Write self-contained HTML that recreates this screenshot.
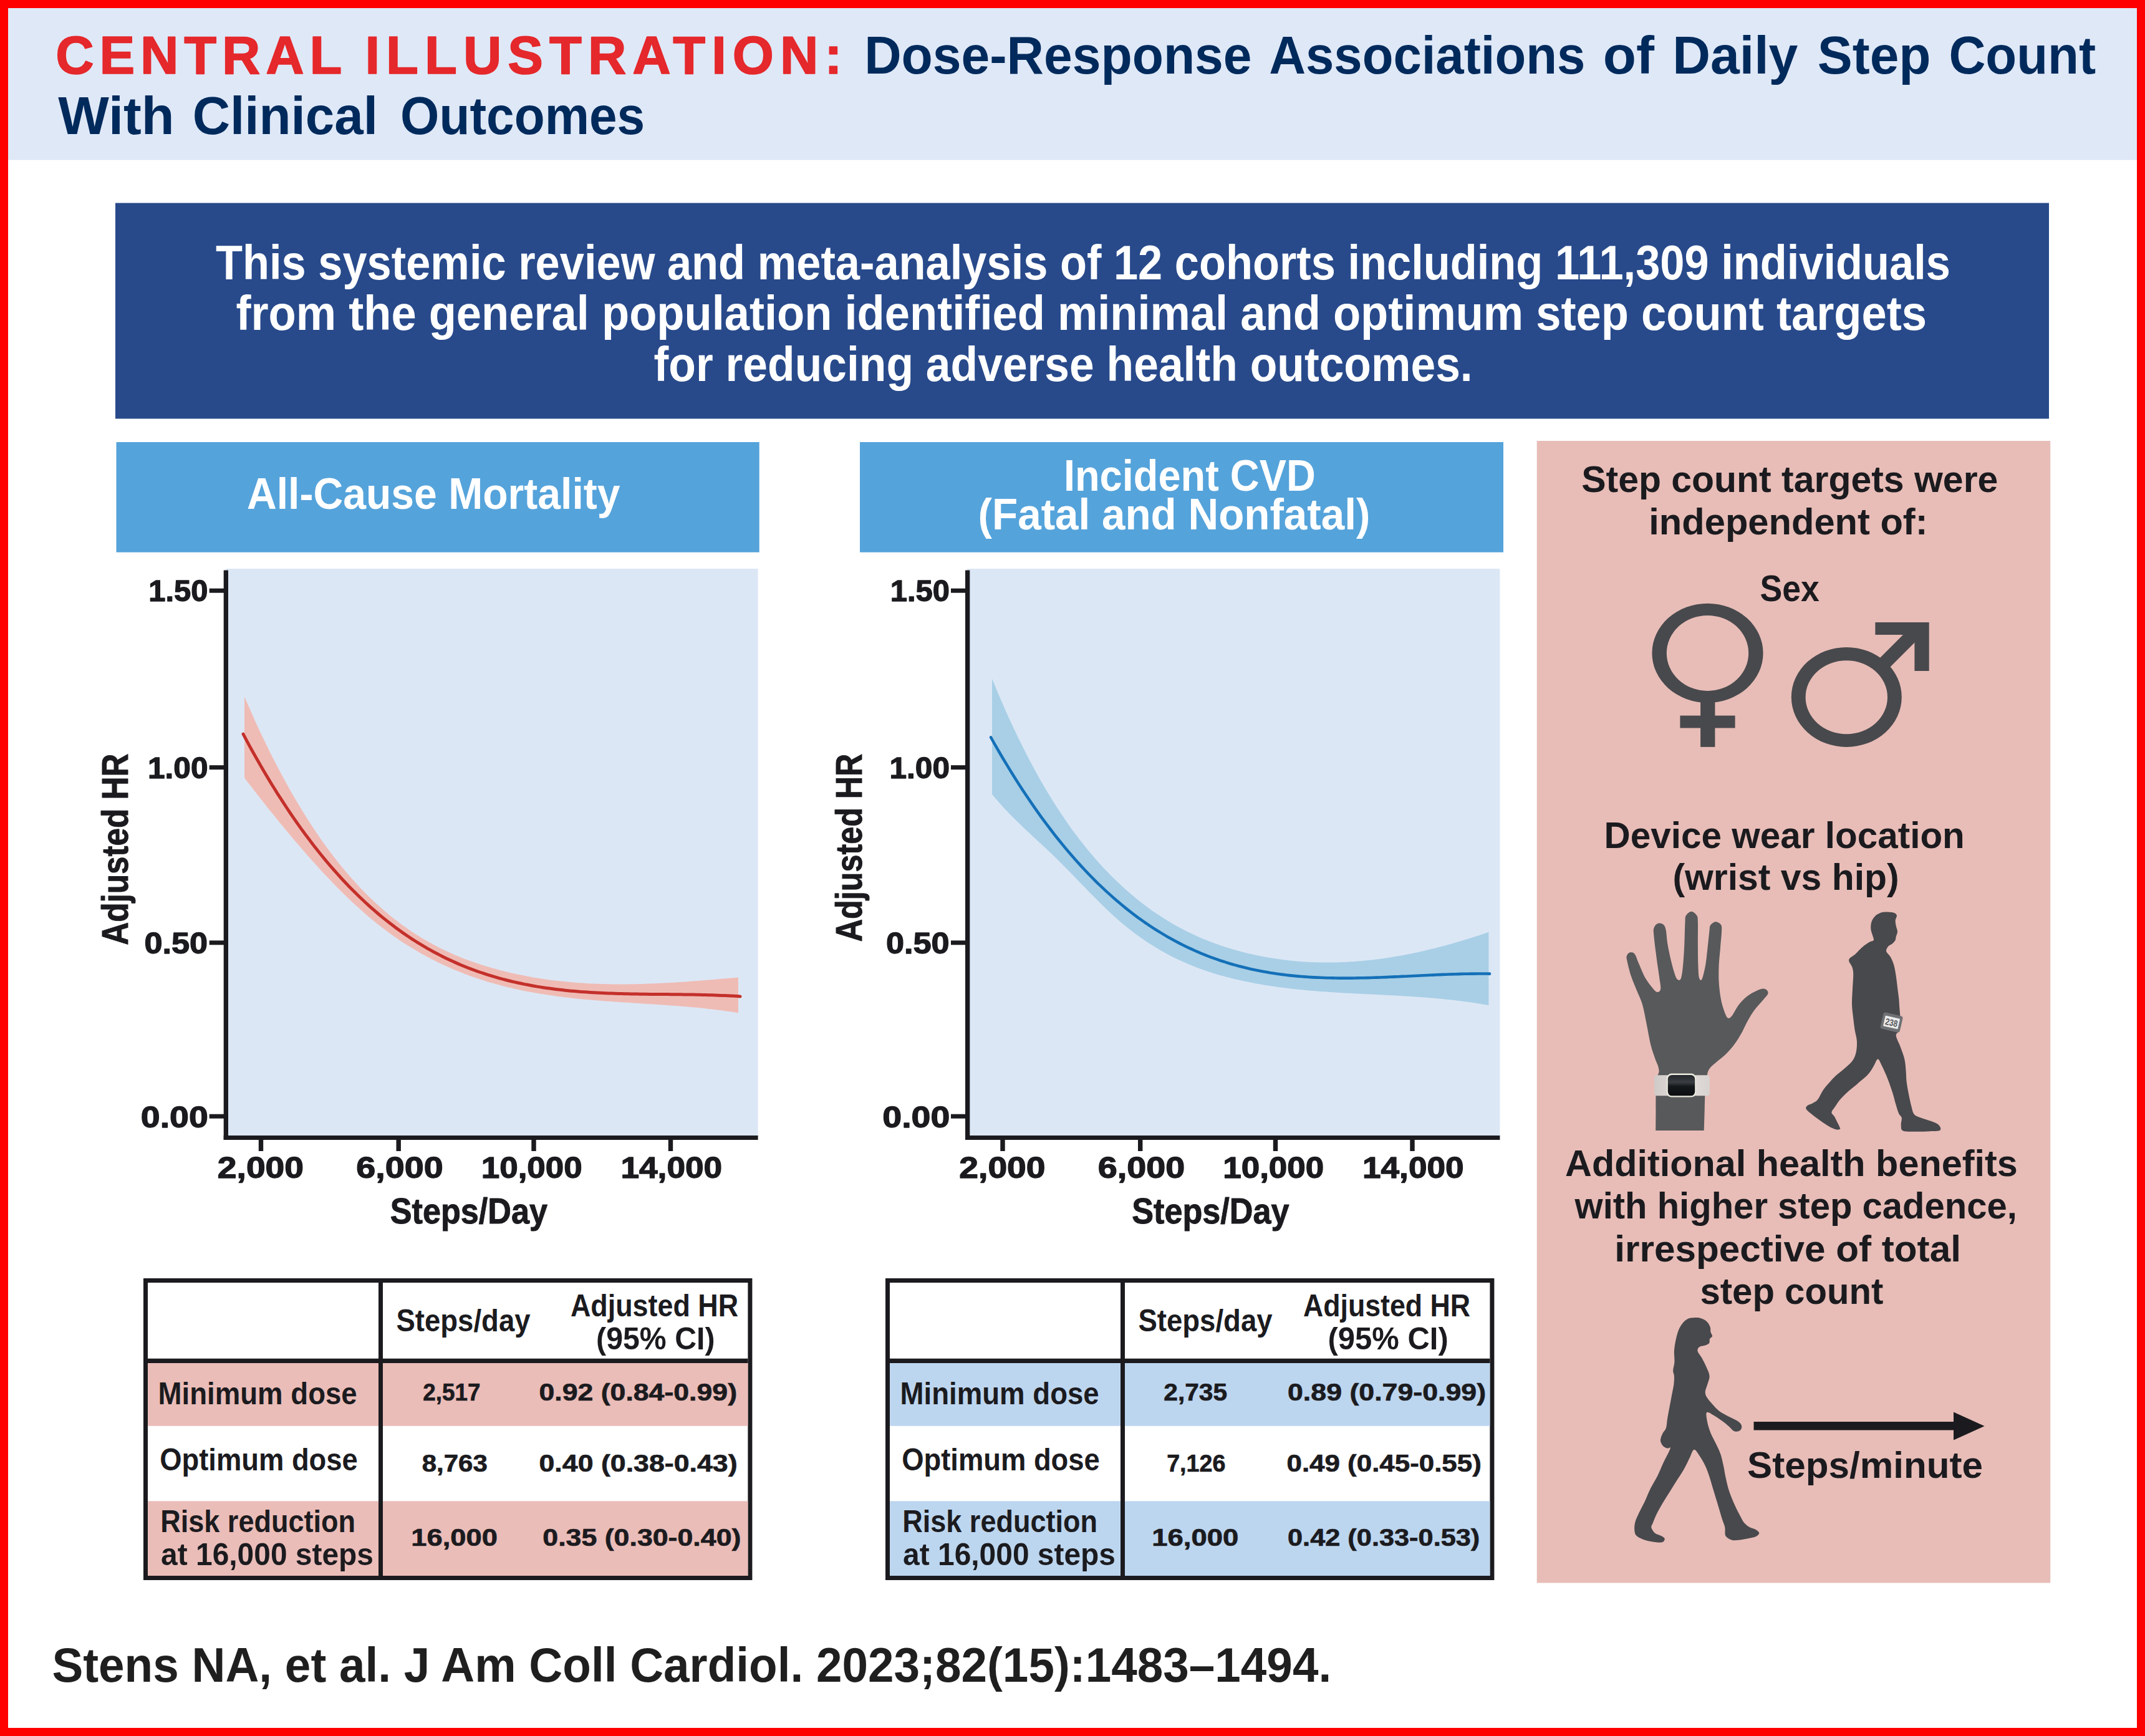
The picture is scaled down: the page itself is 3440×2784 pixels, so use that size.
<!DOCTYPE html>
<html lang="en"><head><meta charset="utf-8"><title>Central Illustration: Dose-Response Associations of Daily Step Count With Clinical Outcomes</title>
<style>
html,body{margin:0;padding:0;background:#fff;}
body{width:3440px;height:2784px;overflow:hidden;font-family:"Liberation Sans",sans-serif;}
svg{display:block;}
</style></head><body>
<svg width="3440" height="2784" viewBox="0 0 3440 2784">
<rect x="0.0" y="0.0" width="3440.0" height="2784.0" fill="#ff0000" />
<rect x="13.0" y="13.0" width="3414.0" height="2758.0" fill="#ffffff" />
<rect x="13.0" y="13.0" width="3414.0" height="243.5" fill="#dfe8f7" />
<rect x="185.0" y="325.5" width="3101.0" height="346.0" fill="#284a8b" />
<rect x="186.5" y="709.0" width="1031.2" height="176.7" fill="#55a3db" />
<rect x="1379.0" y="709.0" width="1032.0" height="176.7" fill="#55a3db" />
<rect x="361.7" y="912.0" width="853.9" height="912.0" fill="#dce7f5" />
<path d="M392.0,1117.2 L397.0,1128.7 L402.0,1140.1 L406.9,1151.2 L411.9,1162.2 L416.9,1172.9 L421.9,1183.4 L426.9,1193.8 L431.8,1203.9 L436.8,1213.9 L441.8,1223.6 L446.8,1233.2 L451.8,1242.6 L456.8,1251.8 L461.7,1260.8 L466.7,1269.6 L471.7,1278.3 L476.7,1286.8 L481.7,1295.1 L486.6,1303.2 L491.6,1311.1 L496.6,1318.9 L501.6,1326.6 L506.6,1334.0 L511.5,1341.3 L516.5,1348.4 L521.5,1355.4 L526.5,1362.2 L531.5,1368.9 L536.5,1375.4 L541.4,1381.7 L546.4,1387.9 L551.4,1394.0 L556.4,1399.9 L561.4,1405.7 L566.3,1411.3 L571.3,1416.8 L576.3,1422.2 L581.3,1427.4 L586.3,1432.5 L591.2,1437.5 L596.2,1442.3 L601.2,1447.0 L606.2,1451.6 L611.2,1456.1 L616.2,1460.4 L621.1,1464.6 L626.1,1468.7 L631.1,1472.7 L636.1,1476.6 L641.1,1480.4 L646.0,1484.0 L651.0,1487.6 L656.0,1491.1 L661.0,1494.4 L666.0,1497.7 L670.9,1500.8 L675.9,1503.9 L680.9,1506.8 L685.9,1509.7 L690.9,1512.5 L695.8,1515.2 L700.8,1517.8 L705.8,1520.4 L710.8,1522.8 L715.8,1525.2 L720.8,1527.5 L725.7,1529.7 L730.7,1531.9 L735.7,1533.9 L740.7,1535.9 L745.7,1537.9 L750.6,1539.8 L755.6,1541.6 L760.6,1543.3 L765.6,1545.0 L770.6,1546.7 L775.5,1548.3 L780.5,1549.8 L785.5,1551.3 L790.5,1552.7 L795.5,1554.1 L800.5,1555.4 L805.4,1556.7 L810.4,1558.0 L815.4,1559.2 L820.4,1560.4 L825.4,1561.5 L830.3,1562.6 L835.3,1563.6 L840.3,1564.6 L845.3,1565.6 L850.3,1566.5 L855.2,1567.4 L860.2,1568.2 L865.2,1569.0 L870.2,1569.8 L875.2,1570.5 L880.2,1571.2 L885.1,1571.9 L890.1,1572.5 L895.1,1573.1 L900.1,1573.6 L905.1,1574.1 L910.0,1574.6 L915.0,1575.1 L920.0,1575.5 L925.0,1575.9 L930.0,1576.3 L934.9,1576.6 L939.9,1576.9 L944.9,1577.2 L949.9,1577.4 L954.9,1577.6 L959.8,1577.8 L964.8,1578.0 L969.8,1578.1 L974.8,1578.2 L979.8,1578.3 L984.8,1578.4 L989.7,1578.4 L994.7,1578.4 L999.7,1578.4 L1004.7,1578.4 L1009.7,1578.3 L1014.6,1578.2 L1019.6,1578.2 L1024.6,1578.0 L1029.6,1577.9 L1034.6,1577.8 L1039.5,1577.6 L1044.5,1577.4 L1049.5,1577.2 L1054.5,1577.0 L1059.5,1576.7 L1064.5,1576.5 L1069.4,1576.2 L1074.4,1575.9 L1079.4,1575.7 L1084.4,1575.4 L1089.4,1575.0 L1094.3,1574.7 L1099.3,1574.4 L1104.3,1574.0 L1109.3,1573.6 L1114.3,1573.3 L1119.2,1572.9 L1124.2,1572.5 L1129.2,1572.1 L1134.2,1571.7 L1139.2,1571.3 L1144.2,1570.9 L1149.1,1570.5 L1154.1,1570.0 L1159.1,1569.6 L1164.1,1569.2 L1169.1,1568.7 L1174.0,1568.3 L1179.0,1567.9 L1184.0,1567.4 L1184.0,1624.4 L1179.0,1623.6 L1174.0,1622.8 L1169.1,1622.1 L1164.1,1621.4 L1159.1,1620.7 L1154.1,1620.0 L1149.1,1619.4 L1144.2,1618.8 L1139.2,1618.2 L1134.2,1617.7 L1129.2,1617.1 L1124.2,1616.6 L1119.2,1616.1 L1114.3,1615.6 L1109.3,1615.2 L1104.3,1614.7 L1099.3,1614.3 L1094.3,1613.9 L1089.4,1613.5 L1084.4,1613.1 L1079.4,1612.7 L1074.4,1612.4 L1069.4,1612.0 L1064.5,1611.7 L1059.5,1611.3 L1054.5,1611.0 L1049.5,1610.7 L1044.5,1610.3 L1039.5,1610.0 L1034.6,1609.7 L1029.6,1609.4 L1024.6,1609.1 L1019.6,1608.8 L1014.6,1608.4 L1009.7,1608.1 L1004.7,1607.8 L999.7,1607.5 L994.7,1607.2 L989.7,1606.8 L984.8,1606.5 L979.8,1606.1 L974.8,1605.8 L969.8,1605.4 L964.8,1605.0 L959.8,1604.6 L954.9,1604.2 L949.9,1603.8 L944.9,1603.3 L939.9,1602.9 L934.9,1602.4 L930.0,1601.9 L925.0,1601.4 L920.0,1600.9 L915.0,1600.3 L910.0,1599.8 L905.1,1599.2 L900.1,1598.6 L895.1,1597.9 L890.1,1597.2 L885.1,1596.6 L880.2,1595.8 L875.2,1595.1 L870.2,1594.3 L865.2,1593.5 L860.2,1592.6 L855.2,1591.7 L850.3,1590.8 L845.3,1589.9 L840.3,1588.9 L835.3,1587.9 L830.3,1586.8 L825.4,1585.7 L820.4,1584.6 L815.4,1583.4 L810.4,1582.2 L805.4,1580.9 L800.5,1579.6 L795.5,1578.2 L790.5,1576.8 L785.5,1575.4 L780.5,1573.9 L775.5,1572.3 L770.6,1570.8 L765.6,1569.1 L760.6,1567.4 L755.6,1565.7 L750.6,1563.8 L745.7,1562.0 L740.7,1560.1 L735.7,1558.1 L730.7,1556.0 L725.7,1553.9 L720.8,1551.8 L715.8,1549.6 L710.8,1547.3 L705.8,1544.9 L700.8,1542.5 L695.8,1540.0 L690.9,1537.4 L685.9,1534.8 L680.9,1532.1 L675.9,1529.4 L670.9,1526.5 L666.0,1523.6 L661.0,1520.6 L656.0,1517.5 L651.0,1514.4 L646.0,1511.2 L641.1,1507.9 L636.1,1504.5 L631.1,1501.0 L626.1,1497.5 L621.1,1493.8 L616.2,1490.1 L611.2,1486.3 L606.2,1482.4 L601.2,1478.4 L596.2,1474.3 L591.2,1470.2 L586.3,1465.9 L581.3,1461.6 L576.3,1457.1 L571.3,1452.6 L566.3,1448.0 L561.4,1443.3 L556.4,1438.5 L551.4,1433.7 L546.4,1428.7 L541.4,1423.7 L536.5,1418.7 L531.5,1413.5 L526.5,1408.3 L521.5,1403.0 L516.5,1397.7 L511.5,1392.3 L506.6,1386.8 L501.6,1381.2 L496.6,1375.7 L491.6,1370.0 L486.6,1364.3 L481.7,1358.6 L476.7,1352.8 L471.7,1346.9 L466.7,1341.0 L461.7,1335.1 L456.8,1329.1 L451.8,1323.0 L446.8,1316.9 L441.8,1310.8 L436.8,1304.6 L431.8,1298.4 L426.9,1292.2 L421.9,1285.9 L416.9,1279.5 L411.9,1273.2 L406.9,1266.8 L402.0,1260.3 L397.0,1253.9 L392.0,1247.4 Z" fill="#efbcb5"/>
<path d="M390.0,1177.2 L395.0,1186.6 L400.0,1195.9 L405.0,1205.0 L410.1,1214.0 L415.1,1222.8 L420.1,1231.5 L425.1,1240.0 L430.1,1248.4 L435.1,1256.7 L440.1,1264.8 L445.1,1272.8 L450.2,1280.7 L455.2,1288.4 L460.2,1296.0 L465.2,1303.5 L470.2,1310.8 L475.2,1318.0 L480.2,1325.1 L485.2,1332.1 L490.3,1338.9 L495.3,1345.6 L500.3,1352.2 L505.3,1358.7 L510.3,1365.0 L515.3,1371.3 L520.3,1377.4 L525.3,1383.4 L530.4,1389.3 L535.4,1395.0 L540.4,1400.7 L545.4,1406.2 L550.4,1411.7 L555.4,1417.0 L560.4,1422.2 L565.4,1427.3 L570.5,1432.3 L575.5,1437.2 L580.5,1442.0 L585.5,1446.7 L590.5,1451.3 L595.5,1455.8 L600.5,1460.2 L605.5,1464.5 L610.6,1468.8 L615.6,1472.9 L620.6,1476.9 L625.6,1480.8 L630.6,1484.6 L635.6,1488.4 L640.6,1492.0 L645.6,1495.6 L650.7,1499.1 L655.7,1502.5 L660.7,1505.8 L665.7,1509.0 L670.7,1512.2 L675.7,1515.2 L680.7,1518.2 L685.7,1521.1 L690.8,1523.9 L695.8,1526.7 L700.8,1529.3 L705.8,1531.9 L710.8,1534.5 L715.8,1536.9 L720.8,1539.3 L725.8,1541.6 L730.9,1543.9 L735.9,1546.1 L740.9,1548.2 L745.9,1550.2 L750.9,1552.2 L755.9,1554.1 L760.9,1556.0 L765.9,1557.8 L771.0,1559.5 L776.0,1561.2 L781.0,1562.8 L786.0,1564.4 L791.0,1565.9 L796.0,1567.4 L801.0,1568.8 L806.0,1570.2 L811.1,1571.5 L816.1,1572.7 L821.1,1574.0 L826.1,1575.1 L831.1,1576.2 L836.1,1577.3 L841.1,1578.4 L846.1,1579.3 L851.2,1580.3 L856.2,1581.2 L861.2,1582.1 L866.2,1582.9 L871.2,1583.7 L876.2,1584.4 L881.2,1585.1 L886.2,1585.8 L891.3,1586.4 L896.3,1587.0 L901.3,1587.6 L906.3,1588.2 L911.3,1588.7 L916.3,1589.2 L921.3,1589.6 L926.3,1590.0 L931.4,1590.4 L936.4,1590.8 L941.4,1591.1 L946.4,1591.5 L951.4,1591.8 L956.4,1592.1 L961.4,1592.3 L966.4,1592.5 L971.5,1592.8 L976.5,1593.0 L981.5,1593.1 L986.5,1593.3 L991.5,1593.5 L996.5,1593.6 L1001.5,1593.7 L1006.5,1593.8 L1011.6,1593.9 L1016.6,1594.0 L1021.6,1594.1 L1026.6,1594.2 L1031.6,1594.3 L1036.6,1594.3 L1041.6,1594.4 L1046.6,1594.4 L1051.7,1594.5 L1056.7,1594.5 L1061.7,1594.6 L1066.7,1594.6 L1071.7,1594.6 L1076.7,1594.7 L1081.7,1594.7 L1086.7,1594.8 L1091.8,1594.8 L1096.8,1594.9 L1101.8,1595.0 L1106.8,1595.0 L1111.8,1595.1 L1116.8,1595.2 L1121.8,1595.3 L1126.8,1595.4 L1131.9,1595.5 L1136.9,1595.7 L1141.9,1595.8 L1146.9,1596.0 L1151.9,1596.2 L1156.9,1596.4 L1161.9,1596.6 L1166.9,1596.8 L1172.0,1597.1 L1177.0,1597.3 L1182.0,1597.6 L1187.0,1598.0" fill="none" stroke="#c4302b" stroke-width="5.0" stroke-linecap="round" stroke-linejoin="round"/>
<rect x="358.7" y="914.5" width="7.3" height="913.5" fill="#1b1b1f" />
<rect x="358.7" y="1821.0" width="856.9" height="7.0" fill="#1b1b1f" />
<rect x="335.7" y="943.7" width="24.0" height="7.0" fill="#1b1b1f" />
<rect x="335.7" y="1227.2" width="24.0" height="7.0" fill="#1b1b1f" />
<rect x="335.7" y="1508.3" width="24.0" height="7.0" fill="#1b1b1f" />
<rect x="335.7" y="1786.7" width="24.0" height="7.0" fill="#1b1b1f" />
<rect x="414.8" y="1826.0" width="7.4" height="20.0" fill="#1b1b1f" />
<rect x="635.5" y="1826.0" width="7.4" height="20.0" fill="#1b1b1f" />
<rect x="852.3" y="1826.0" width="7.4" height="20.0" fill="#1b1b1f" />
<rect x="1071.8" y="1826.0" width="7.4" height="20.0" fill="#1b1b1f" />
<rect x="1551.0" y="912.0" width="854.4" height="912.0" fill="#dce7f5" />
<path d="M1591.0,1088.4 L1596.0,1100.6 L1601.0,1112.6 L1606.0,1124.3 L1611.0,1135.8 L1616.0,1147.0 L1621.1,1158.0 L1626.1,1168.7 L1631.1,1179.3 L1636.1,1189.5 L1641.1,1199.6 L1646.1,1209.5 L1651.1,1219.1 L1656.1,1228.5 L1661.1,1237.7 L1666.1,1246.7 L1671.1,1255.5 L1676.1,1264.1 L1681.2,1272.5 L1686.2,1280.7 L1691.2,1288.7 L1696.2,1296.5 L1701.2,1304.1 L1706.2,1311.6 L1711.2,1318.8 L1716.2,1325.9 L1721.2,1332.9 L1726.2,1339.6 L1731.2,1346.2 L1736.3,1352.6 L1741.3,1358.9 L1746.3,1365.0 L1751.3,1371.0 L1756.3,1376.8 L1761.3,1382.4 L1766.3,1388.0 L1771.3,1393.4 L1776.3,1398.6 L1781.3,1403.7 L1786.3,1408.7 L1791.4,1413.6 L1796.4,1418.3 L1801.4,1422.9 L1806.4,1427.4 L1811.4,1431.8 L1816.4,1436.1 L1821.4,1440.2 L1826.4,1444.3 L1831.4,1448.2 L1836.4,1452.0 L1841.4,1455.8 L1846.4,1459.4 L1851.5,1462.9 L1856.5,1466.3 L1861.5,1469.6 L1866.5,1472.8 L1871.5,1475.9 L1876.5,1479.0 L1881.5,1481.9 L1886.5,1484.7 L1891.5,1487.5 L1896.5,1490.1 L1901.5,1492.7 L1906.6,1495.2 L1911.6,1497.6 L1916.6,1499.9 L1921.6,1502.2 L1926.6,1504.4 L1931.6,1506.5 L1936.6,1508.5 L1941.6,1510.4 L1946.6,1512.3 L1951.6,1514.1 L1956.6,1515.9 L1961.7,1517.6 L1966.7,1519.2 L1971.7,1520.7 L1976.7,1522.2 L1981.7,1523.7 L1986.7,1525.0 L1991.7,1526.4 L1996.7,1527.7 L2001.7,1528.9 L2006.7,1530.1 L2011.7,1531.2 L2016.7,1532.2 L2021.8,1533.3 L2026.8,1534.2 L2031.8,1535.2 L2036.8,1536.0 L2041.8,1536.8 L2046.8,1537.6 L2051.8,1538.3 L2056.8,1539.0 L2061.8,1539.6 L2066.8,1540.2 L2071.8,1540.7 L2076.9,1541.2 L2081.9,1541.7 L2086.9,1542.1 L2091.9,1542.4 L2096.9,1542.7 L2101.9,1543.0 L2106.9,1543.2 L2111.9,1543.3 L2116.9,1543.5 L2121.9,1543.5 L2126.9,1543.6 L2132.0,1543.6 L2137.0,1543.5 L2142.0,1543.4 L2147.0,1543.3 L2152.0,1543.1 L2157.0,1542.9 L2162.0,1542.6 L2167.0,1542.3 L2172.0,1542.0 L2177.0,1541.6 L2182.0,1541.2 L2187.0,1540.8 L2192.1,1540.3 L2197.1,1539.7 L2202.1,1539.2 L2207.1,1538.5 L2212.1,1537.9 L2217.1,1537.2 L2222.1,1536.5 L2227.1,1535.8 L2232.1,1535.0 L2237.1,1534.1 L2242.1,1533.3 L2247.2,1532.4 L2252.2,1531.5 L2257.2,1530.5 L2262.2,1529.5 L2267.2,1528.5 L2272.2,1527.4 L2277.2,1526.3 L2282.2,1525.2 L2287.2,1524.0 L2292.2,1522.8 L2297.2,1521.6 L2302.3,1520.4 L2307.3,1519.1 L2312.3,1517.8 L2317.3,1516.4 L2322.3,1515.1 L2327.3,1513.7 L2332.3,1512.3 L2337.3,1510.8 L2342.3,1509.3 L2347.3,1507.8 L2352.3,1506.3 L2357.3,1504.7 L2362.4,1503.1 L2367.4,1501.5 L2372.4,1499.9 L2377.4,1498.2 L2382.4,1496.5 L2387.4,1494.8 L2387.4,1612.2 L2382.4,1611.3 L2377.4,1610.4 L2372.4,1609.6 L2367.4,1608.8 L2362.4,1608.0 L2357.3,1607.3 L2352.3,1606.6 L2347.3,1605.9 L2342.3,1605.3 L2337.3,1604.7 L2332.3,1604.1 L2327.3,1603.5 L2322.3,1603.0 L2317.3,1602.4 L2312.3,1601.9 L2307.3,1601.5 L2302.3,1601.0 L2297.2,1600.6 L2292.2,1600.2 L2287.2,1599.8 L2282.2,1599.4 L2277.2,1599.0 L2272.2,1598.7 L2267.2,1598.3 L2262.2,1598.0 L2257.2,1597.7 L2252.2,1597.4 L2247.2,1597.1 L2242.1,1596.8 L2237.1,1596.6 L2232.1,1596.3 L2227.1,1596.0 L2222.1,1595.8 L2217.1,1595.5 L2212.1,1595.3 L2207.1,1595.0 L2202.1,1594.8 L2197.1,1594.5 L2192.1,1594.3 L2187.0,1594.1 L2182.0,1593.8 L2177.0,1593.5 L2172.0,1593.3 L2167.0,1593.0 L2162.0,1592.8 L2157.0,1592.5 L2152.0,1592.2 L2147.0,1591.9 L2142.0,1591.6 L2137.0,1591.3 L2132.0,1591.0 L2126.9,1590.6 L2121.9,1590.3 L2116.9,1589.9 L2111.9,1589.5 L2106.9,1589.1 L2101.9,1588.7 L2096.9,1588.2 L2091.9,1587.8 L2086.9,1587.3 L2081.9,1586.8 L2076.9,1586.2 L2071.8,1585.7 L2066.8,1585.1 L2061.8,1584.5 L2056.8,1583.8 L2051.8,1583.2 L2046.8,1582.5 L2041.8,1581.8 L2036.8,1581.0 L2031.8,1580.2 L2026.8,1579.4 L2021.8,1578.6 L2016.7,1577.7 L2011.7,1576.8 L2006.7,1575.8 L2001.7,1574.8 L1996.7,1573.8 L1991.7,1572.7 L1986.7,1571.6 L1981.7,1570.4 L1976.7,1569.2 L1971.7,1568.0 L1966.7,1566.7 L1961.7,1565.3 L1956.6,1563.9 L1951.6,1562.4 L1946.6,1560.9 L1941.6,1559.3 L1936.6,1557.7 L1931.6,1556.0 L1926.6,1554.2 L1921.6,1552.4 L1916.6,1550.5 L1911.6,1548.5 L1906.6,1546.4 L1901.5,1544.3 L1896.5,1542.1 L1891.5,1539.8 L1886.5,1537.4 L1881.5,1534.9 L1876.5,1532.4 L1871.5,1529.7 L1866.5,1527.0 L1861.5,1524.2 L1856.5,1521.3 L1851.5,1518.2 L1846.4,1515.1 L1841.4,1511.9 L1836.4,1508.6 L1831.4,1505.1 L1826.4,1501.6 L1821.4,1497.9 L1816.4,1494.2 L1811.4,1490.3 L1806.4,1486.3 L1801.4,1482.2 L1796.4,1477.9 L1791.4,1473.6 L1786.3,1469.1 L1781.3,1464.5 L1776.3,1459.8 L1771.3,1455.0 L1766.3,1450.1 L1761.3,1445.1 L1756.3,1440.1 L1751.3,1435.0 L1746.3,1429.9 L1741.3,1424.8 L1736.3,1419.6 L1731.2,1414.4 L1726.2,1409.2 L1721.2,1404.1 L1716.2,1398.9 L1711.2,1393.8 L1706.2,1388.7 L1701.2,1383.7 L1696.2,1378.7 L1691.2,1373.8 L1686.2,1369.0 L1681.2,1364.2 L1676.1,1359.5 L1671.1,1354.9 L1666.1,1350.2 L1661.1,1345.6 L1656.1,1340.9 L1651.1,1336.3 L1646.1,1331.6 L1641.1,1326.9 L1636.1,1322.1 L1631.1,1317.2 L1626.1,1312.2 L1621.1,1307.2 L1616.0,1302.0 L1611.0,1296.7 L1606.0,1291.2 L1601.0,1285.6 L1596.0,1279.7 L1591.0,1273.7 Z" fill="#a8cfe6"/>
<path d="M1589.1,1182.5 L1594.1,1191.5 L1599.2,1200.3 L1604.2,1209.0 L1609.2,1217.5 L1614.3,1225.9 L1619.3,1234.1 L1624.3,1242.3 L1629.3,1250.3 L1634.4,1258.2 L1639.4,1265.9 L1644.4,1273.5 L1649.5,1281.0 L1654.5,1288.4 L1659.5,1295.6 L1664.6,1302.8 L1669.6,1309.8 L1674.6,1316.6 L1679.7,1323.4 L1684.7,1330.0 L1689.7,1336.6 L1694.7,1343.0 L1699.8,1349.3 L1704.8,1355.4 L1709.8,1361.5 L1714.9,1367.4 L1719.9,1373.3 L1724.9,1379.0 L1730.0,1384.6 L1735.0,1390.1 L1740.0,1395.5 L1745.1,1400.8 L1750.1,1406.0 L1755.1,1411.1 L1760.1,1416.1 L1765.2,1420.9 L1770.2,1425.7 L1775.2,1430.4 L1780.3,1434.9 L1785.3,1439.4 L1790.3,1443.8 L1795.4,1448.1 L1800.4,1452.3 L1805.4,1456.4 L1810.5,1460.3 L1815.5,1464.3 L1820.5,1468.1 L1825.5,1471.8 L1830.6,1475.4 L1835.6,1479.0 L1840.6,1482.4 L1845.7,1485.8 L1850.7,1489.1 L1855.7,1492.3 L1860.8,1495.4 L1865.8,1498.4 L1870.8,1501.4 L1875.9,1504.3 L1880.9,1507.1 L1885.9,1509.8 L1890.9,1512.4 L1896.0,1515.0 L1901.0,1517.5 L1906.0,1519.9 L1911.1,1522.2 L1916.1,1524.5 L1921.1,1526.7 L1926.2,1528.8 L1931.2,1530.9 L1936.2,1532.9 L1941.3,1534.8 L1946.3,1536.6 L1951.3,1538.4 L1956.3,1540.2 L1961.4,1541.8 L1966.4,1543.4 L1971.4,1545.0 L1976.5,1546.5 L1981.5,1547.9 L1986.5,1549.3 L1991.6,1550.6 L1996.6,1551.8 L2001.6,1553.0 L2006.7,1554.2 L2011.7,1555.3 L2016.7,1556.3 L2021.8,1557.3 L2026.8,1558.2 L2031.8,1559.1 L2036.8,1560.0 L2041.9,1560.8 L2046.9,1561.5 L2051.9,1562.2 L2057.0,1562.9 L2062.0,1563.5 L2067.0,1564.1 L2072.1,1564.6 L2077.1,1565.1 L2082.1,1565.6 L2087.2,1566.0 L2092.2,1566.4 L2097.2,1566.8 L2102.2,1567.1 L2107.3,1567.4 L2112.3,1567.6 L2117.3,1567.8 L2122.4,1568.0 L2127.4,1568.2 L2132.4,1568.3 L2137.5,1568.4 L2142.5,1568.5 L2147.5,1568.6 L2152.6,1568.6 L2157.6,1568.6 L2162.6,1568.6 L2167.6,1568.6 L2172.7,1568.5 L2177.7,1568.4 L2182.7,1568.3 L2187.8,1568.2 L2192.8,1568.1 L2197.8,1568.0 L2202.9,1567.8 L2207.9,1567.6 L2212.9,1567.5 L2218.0,1567.3 L2223.0,1567.1 L2228.0,1566.8 L2233.0,1566.6 L2238.1,1566.4 L2243.1,1566.2 L2248.1,1565.9 L2253.2,1565.7 L2258.2,1565.5 L2263.2,1565.2 L2268.3,1565.0 L2273.3,1564.7 L2278.3,1564.5 L2283.4,1564.2 L2288.4,1564.0 L2293.4,1563.8 L2298.4,1563.6 L2303.5,1563.3 L2308.5,1563.1 L2313.5,1562.9 L2318.6,1562.7 L2323.6,1562.5 L2328.6,1562.4 L2333.7,1562.2 L2338.7,1562.1 L2343.7,1561.9 L2348.8,1561.8 L2353.8,1561.7 L2358.8,1561.6 L2363.8,1561.6 L2368.9,1561.5 L2373.9,1561.5 L2378.9,1561.5 L2384.0,1561.5 L2389.0,1561.6" fill="none" stroke="#1470b8" stroke-width="4.6" stroke-linecap="round" stroke-linejoin="round"/>
<rect x="1548.0" y="914.5" width="7.3" height="913.5" fill="#1b1b1f" />
<rect x="1548.0" y="1821.0" width="857.4" height="7.0" fill="#1b1b1f" />
<rect x="1525.0" y="943.7" width="24.0" height="7.0" fill="#1b1b1f" />
<rect x="1525.0" y="1227.2" width="24.0" height="7.0" fill="#1b1b1f" />
<rect x="1525.0" y="1508.3" width="24.0" height="7.0" fill="#1b1b1f" />
<rect x="1525.0" y="1786.7" width="24.0" height="7.0" fill="#1b1b1f" />
<rect x="1604.3" y="1826.0" width="7.4" height="20.0" fill="#1b1b1f" />
<rect x="1825.0" y="1826.0" width="7.4" height="20.0" fill="#1b1b1f" />
<rect x="2041.8" y="1826.0" width="7.4" height="20.0" fill="#1b1b1f" />
<rect x="2261.3" y="1826.0" width="7.4" height="20.0" fill="#1b1b1f" />
<rect x="230.0" y="2050.0" width="976.4" height="484.0" fill="#1b1b1f" />
<rect x="237.0" y="2057.0" width="962.4" height="470.0" fill="#ffffff" />
<rect x="237.0" y="2186.0" width="962.4" height="100.8" fill="#ebbdb8" />
<rect x="237.0" y="2407.3" width="962.4" height="119.7" fill="#ebbdb8" />
<rect x="237.0" y="2178.7" width="962.4" height="7.3" fill="#1b1b1f" />
<rect x="607.0" y="2057.0" width="7.0" height="470.0" fill="#1b1b1f" />
<rect x="1420.0" y="2050.0" width="976.4" height="484.0" fill="#1b1b1f" />
<rect x="1427.0" y="2057.0" width="962.4" height="470.0" fill="#ffffff" />
<rect x="1427.0" y="2186.0" width="962.4" height="100.8" fill="#bdd6ef" />
<rect x="1427.0" y="2407.3" width="962.4" height="119.7" fill="#bdd6ef" />
<rect x="1427.0" y="2178.7" width="962.4" height="7.3" fill="#1b1b1f" />
<rect x="1797.0" y="2057.0" width="7.0" height="470.0" fill="#1b1b1f" />
<rect x="2464.7" y="707.0" width="823.5" height="1831.5" fill="#e8bdb7" />
<path fill-rule="evenodd" fill="#48494d" d="M2649.4,1047.4 a89.1,79.6 0 1,0 178.2,0 a89.1,79.6 0 1,0 -178.2,0 Z M2672.8,1047.4 a65.7,60.5 0 1,0 131.4,0 a65.7,60.5 0 1,0 -131.4,0 Z"/>
<rect x="2727.1" y="1120.0" width="23.3" height="77.9" fill="#48494d" />
<rect x="2694.4" y="1147.6" width="88.2" height="19.9" fill="#48494d" />
<path fill-rule="evenodd" fill="#48494d" d="M2872.8,1117.9 a88.5,80.0 0 1,0 177.0,0 a88.5,80.0 0 1,0 -177.0,0 Z M2895.6,1118.2 a65.7,59.0 0 1,0 131.4,0 a65.7,59.0 0 1,0 -131.4,0 Z"/>
<line x1="3022" y1="1063.5" x2="3078" y2="1007.5" stroke="#48494d" stroke-width="22"/>
<path d="M3007.4,998 H3093.7 V1076.1 H3070.4 V1018.1 H3007.4 Z" fill="#48494d"/>
<path d="M2655.3,1813.0 C2655.3,1813.0 2655.7,1728.8 2655.7,1728.8 C2655.7,1728.8 2659.9,1723.0 2660.4,1719.8 C2661.0,1716.6 2660.1,1713.2 2659.1,1709.7 C2658.1,1706.1 2656.6,1704.0 2654.6,1698.4 C2652.7,1692.8 2649.7,1685.3 2647.4,1676.0 C2645.1,1666.6 2642.9,1653.1 2640.7,1642.2 C2638.4,1631.4 2636.6,1619.8 2633.9,1610.8 C2631.3,1601.8 2627.9,1595.8 2624.9,1588.3 C2621.9,1580.8 2618.5,1573.5 2616.0,1565.8 C2613.4,1558.2 2610.9,1547.7 2609.7,1542.2 C2608.5,1536.8 2608.1,1535.7 2608.8,1533.3 C2609.4,1530.8 2611.6,1528.2 2613.7,1527.6 C2615.8,1527.1 2619.1,1526.9 2621.6,1529.9 C2624.0,1532.9 2625.5,1539.3 2628.3,1545.6 C2631.1,1552.0 2634.9,1561.7 2638.4,1568.1 C2642.0,1574.5 2646.5,1580.0 2649.7,1583.8 C2652.8,1587.6 2655.3,1590.6 2657.5,1591.0 C2659.8,1591.4 2662.6,1590.3 2663.1,1586.1 C2663.7,1581.9 2662.0,1574.5 2660.9,1565.8 C2659.8,1557.2 2657.8,1545.2 2656.4,1534.4 C2655.0,1523.5 2653.0,1508.4 2652.4,1500.7 C2651.7,1493.0 2651.3,1491.6 2652.4,1488.3 C2653.4,1485.0 2656.1,1481.8 2658.7,1480.9 C2661.2,1480.0 2665.5,1480.9 2667.6,1482.7 C2669.8,1484.5 2670.6,1486.4 2671.7,1491.7 C2672.8,1496.9 2673.0,1505.9 2674.4,1514.2 C2675.8,1522.4 2678.1,1533.3 2680.0,1541.1 C2681.9,1549.0 2683.9,1556.4 2685.6,1561.3 C2687.3,1566.3 2688.4,1569.5 2690.1,1570.8 C2691.8,1572.1 2694.2,1573.0 2695.7,1569.2 C2697.2,1565.4 2698.2,1557.0 2699.1,1547.9 C2700.0,1538.7 2700.8,1525.8 2701.3,1514.2 C2701.9,1502.5 2702.0,1485.9 2702.5,1478.2 C2702.9,1470.5 2702.4,1470.8 2704.0,1468.1 C2705.7,1465.4 2709.7,1461.8 2712.6,1461.8 C2715.4,1461.8 2719.4,1465.4 2721.1,1468.1 C2722.8,1470.8 2722.6,1470.5 2722.9,1478.2 C2723.2,1485.9 2722.8,1502.5 2722.9,1514.2 C2723.0,1525.8 2723.0,1538.9 2723.4,1547.9 C2723.7,1556.9 2723.9,1564.3 2724.9,1568.1 C2726.0,1571.8 2727.8,1573.7 2729.4,1570.3 C2731.1,1567.0 2733.6,1556.1 2735.1,1547.9 C2736.6,1539.6 2737.4,1529.9 2738.4,1520.9 C2739.5,1511.9 2740.6,1500.1 2741.3,1493.9 C2742.1,1487.8 2741.5,1486.4 2743.1,1483.8 C2744.8,1481.2 2748.5,1478.4 2751.2,1478.2 C2754.0,1478.0 2758.1,1480.3 2759.8,1482.7 C2761.4,1485.1 2761.3,1486.4 2761.1,1492.8 C2761.0,1499.2 2759.6,1511.7 2758.9,1520.9 C2758.1,1530.1 2757.0,1538.9 2756.6,1547.9 C2756.3,1556.9 2756.1,1565.8 2756.6,1574.8 C2757.2,1583.8 2758.3,1593.9 2759.8,1601.8 C2761.2,1609.7 2763.5,1616.9 2765.4,1622.0 C2767.3,1627.2 2769.0,1631.5 2771.0,1632.6 C2773.1,1633.7 2774.8,1632.4 2777.8,1628.8 C2780.7,1625.1 2784.9,1616.0 2789.0,1610.8 C2793.1,1605.5 2798.0,1600.9 2802.5,1597.3 C2807.0,1593.7 2811.8,1591.4 2816.0,1589.4 C2820.1,1587.5 2824.2,1585.8 2827.2,1585.6 C2830.2,1585.4 2832.6,1586.9 2833.9,1588.3 C2835.2,1589.7 2836.2,1591.5 2835.1,1594.2 C2833.9,1596.8 2830.7,1599.8 2827.2,1604.0 C2823.6,1608.3 2817.8,1614.2 2813.7,1619.8 C2809.6,1625.4 2805.8,1631.8 2802.5,1637.8 C2799.1,1643.7 2796.9,1649.7 2793.5,1655.7 C2790.1,1661.7 2786.4,1668.1 2782.2,1673.7 C2778.1,1679.3 2773.6,1684.6 2768.8,1689.4 C2763.9,1694.3 2757.2,1699.3 2753.0,1702.9 C2748.8,1706.6 2745.9,1708.7 2743.6,1711.2 C2741.3,1713.8 2740.1,1716.2 2739.1,1718.4 C2738.1,1720.6 2738.4,1722.4 2737.8,1724.5 C2737.1,1726.6 2735.1,1731.0 2735.1,1731.0 C2735.1,1731.0 2732.8,1813.0 2732.8,1813.0 C2732.8,1813.0 2655.3,1813.0 2655.3,1813.0Z" fill="#58595b"/>
<defs><linearGradient id="bandg" x1="0" y1="0" x2="1" y2="0"><stop offset="0" stop-color="#cfcac8"/><stop offset="0.5" stop-color="#e4e0dd"/><stop offset="1" stop-color="#d8d3d1"/></linearGradient><linearGradient id="scrg" x1="0" y1="0" x2="0" y2="1"><stop offset="0" stop-color="#23262a"/><stop offset="0.35" stop-color="#3a3e42"/><stop offset="0.55" stop-color="#15181b"/><stop offset="1" stop-color="#0c0e11"/></linearGradient></defs>
<rect x="2653.0" y="1724.3" width="88.8" height="33.0" rx="4" fill="url(#bandg)"/>
<rect x="2672.8" y="1721.6" width="47.4" height="38.0" rx="8" fill="#ecebe0"/>
<rect x="2674.8" y="1723.9" width="43.4" height="33.4" rx="6.5" fill="url(#scrg)"/>
<path d="M3022.8,1462.5 C3026.4,1462.4 3033.1,1462.7 3036.3,1463.6 C3039.5,1464.5 3041.3,1466.0 3041.9,1468.1 C3042.5,1470.1 3039.9,1473.1 3039.7,1476.0 C3039.5,1478.8 3040.2,1481.9 3040.8,1484.9 C3041.3,1487.9 3043.0,1491.1 3043.0,1493.9 C3043.0,1496.7 3041.3,1499.6 3040.8,1501.8 C3040.2,1504.0 3040.6,1505.5 3039.7,1507.4 C3038.7,1509.3 3037.0,1511.3 3035.2,1513.0 C3033.3,1514.7 3030.1,1515.5 3028.4,1517.5 C3026.7,1519.6 3024.5,1522.6 3025.1,1525.4 C3025.6,1528.2 3029.7,1530.6 3031.8,1534.4 C3033.9,1538.1 3035.9,1542.6 3037.4,1547.9 C3038.9,1553.1 3039.9,1559.9 3040.8,1565.8 C3041.7,1571.8 3042.3,1577.8 3043.0,1583.8 C3043.8,1589.8 3044.7,1596.2 3045.3,1601.8 C3045.8,1607.4 3046.0,1612.7 3046.4,1617.5 C3046.8,1622.4 3047.2,1626.9 3047.5,1631.0 C3047.9,1635.1 3049.2,1638.3 3048.7,1642.2 C3048.1,1646.2 3045.5,1651.4 3044.2,1654.6 C3042.8,1657.8 3040.2,1657.4 3040.8,1661.3 C3041.3,1665.3 3045.3,1672.0 3047.5,1678.2 C3049.8,1684.4 3052.8,1692.1 3054.3,1698.4 C3055.8,1704.8 3056.0,1710.4 3056.5,1716.4 C3057.1,1722.4 3056.9,1728.0 3057.6,1734.4 C3058.4,1740.7 3059.7,1747.9 3061.0,1754.6 C3062.3,1761.3 3064.0,1769.4 3065.5,1774.8 C3067.0,1780.3 3067.4,1784.2 3070.0,1787.2 C3072.6,1790.2 3077.1,1791.1 3081.2,1792.8 C3085.4,1794.5 3090.6,1795.8 3094.7,1797.3 C3098.8,1798.8 3103.1,1800.1 3106.0,1801.8 C3108.8,1803.5 3110.8,1805.5 3111.6,1807.4 C3112.3,1809.3 3113.3,1811.9 3110.4,1813.0 C3107.6,1814.2 3101.1,1813.9 3094.7,1814.2 C3088.4,1814.5 3079.4,1814.9 3072.2,1814.8 C3065.1,1814.7 3056.0,1815.3 3052.0,1813.5 C3048.1,1811.7 3049.0,1807.5 3048.7,1804.0 C3048.3,1800.6 3050.3,1795.8 3049.8,1792.8 C3049.2,1789.8 3046.8,1789.4 3045.3,1786.1 C3043.8,1782.7 3042.5,1778.2 3040.8,1772.6 C3039.1,1767.0 3037.4,1759.5 3035.2,1752.4 C3032.9,1745.2 3030.1,1737.0 3027.3,1729.9 C3024.5,1722.8 3020.9,1714.9 3018.3,1709.7 C3015.7,1704.4 3013.8,1698.4 3011.6,1698.4 C3009.3,1698.4 3007.5,1705.5 3004.8,1709.7 C3002.2,1713.8 3000.3,1718.3 2995.8,1723.1 C2991.3,1728.0 2983.1,1734.4 2977.9,1738.9 C2972.6,1743.4 2968.9,1746.0 2964.4,1750.1 C2959.9,1754.2 2954.5,1759.5 2950.9,1763.6 C2947.3,1767.7 2945.3,1771.5 2943.0,1774.8 C2940.8,1778.2 2937.6,1781.2 2937.4,1783.8 C2937.2,1786.4 2940.4,1787.9 2941.9,1790.6 C2943.4,1793.2 2945.1,1796.9 2946.4,1799.6 C2947.7,1802.2 2949.0,1804.4 2949.8,1806.3 C2950.5,1808.2 2951.8,1810.0 2950.9,1810.8 C2950.0,1811.6 2947.2,1812.0 2944.2,1811.2 C2941.2,1810.5 2937.0,1808.6 2932.9,1806.3 C2928.8,1804.0 2923.9,1800.5 2919.4,1797.3 C2914.9,1794.1 2909.8,1790.4 2906.0,1787.2 C2902.1,1784.0 2897.6,1780.6 2896.5,1778.2 C2895.4,1775.8 2897.5,1774.1 2899.2,1772.6 C2901.0,1771.1 2904.5,1770.7 2907.1,1769.2 C2909.7,1767.7 2912.1,1767.2 2914.9,1763.6 C2917.8,1760.0 2920.6,1752.7 2923.9,1747.9 C2927.3,1743.0 2931.4,1738.5 2935.2,1734.4 C2938.9,1730.3 2942.3,1726.9 2946.4,1723.1 C2950.5,1719.4 2955.8,1715.7 2959.9,1711.9 C2964.0,1708.2 2968.3,1704.8 2971.1,1700.7 C2973.9,1696.6 2975.6,1692.4 2976.7,1687.2 C2977.9,1681.9 2978.2,1675.2 2977.9,1669.2 C2977.5,1663.2 2975.4,1657.2 2974.5,1651.2 C2973.6,1645.2 2973.0,1640.0 2972.2,1633.3 C2971.5,1626.5 2970.2,1619.0 2970.0,1610.8 C2969.8,1602.5 2970.7,1592.1 2971.1,1583.8 C2971.5,1575.6 2972.4,1567.0 2972.2,1561.3 C2972.1,1555.7 2971.1,1553.3 2970.0,1550.1 C2968.9,1546.9 2966.1,1544.5 2965.5,1542.2 C2964.9,1540.0 2964.9,1538.7 2966.6,1536.6 C2968.3,1534.6 2972.2,1532.9 2975.6,1529.9 C2979.0,1526.9 2983.1,1521.8 2986.9,1518.7 C2990.6,1515.5 2995.1,1512.7 2998.1,1510.8 C3001.1,1508.9 3004.1,1509.5 3004.8,1507.4 C3005.6,1505.4 3003.3,1501.4 3002.6,1498.4 C3001.8,1495.4 3000.5,1492.8 3000.3,1489.4 C3000.1,1486.1 3000.3,1481.6 3001.5,1478.2 C3002.6,1474.8 3004.8,1471.5 3007.1,1469.2 C3009.3,1466.9 3012.3,1465.4 3014.9,1464.3 C3017.6,1463.1 3019.3,1462.6 3022.8,1462.5Z" fill="#48494d"/>
<g transform="translate(3033.6,1639.6) rotate(13)"><rect x="-16" y="-13.5" width="32" height="27" rx="4" fill="#6f7073"/><rect x="-12" y="-8.5" width="24" height="17" rx="1" fill="#ececec"/><text x="0" y="5.5" font-size="15" text-anchor="middle" fill="#5a5b5e" font-family="'Liberation Sans',sans-serif" font-weight="bold" textLength="20" lengthAdjust="spacingAndGlyphs">238</text></g>
<path d="M2712.4,2113.6 C2715.7,2113.2 2721.7,2112.7 2725.8,2113.6 C2730.0,2114.5 2734.3,2116.8 2737.1,2119.2 C2739.9,2121.6 2741.6,2125.4 2742.7,2128.2 C2743.7,2131.0 2742.8,2133.6 2743.4,2136.1 C2743.9,2138.5 2746.3,2140.9 2746.1,2142.8 C2745.8,2144.7 2742.8,2145.4 2742.0,2147.3 C2741.2,2149.2 2742.3,2152.4 2741.1,2154.0 C2739.9,2155.7 2737.4,2156.5 2734.8,2157.4 C2732.3,2158.4 2727.9,2158.2 2725.8,2159.7 C2723.8,2161.2 2721.9,2163.4 2722.5,2166.4 C2723.0,2169.4 2726.8,2173.1 2729.2,2177.6 C2731.6,2182.1 2735.0,2188.5 2737.1,2193.4 C2739.1,2198.2 2741.4,2202.4 2741.6,2206.9 C2741.8,2211.3 2739.3,2216.2 2738.2,2220.3 C2737.1,2224.5 2735.0,2228.2 2734.8,2231.6 C2734.6,2234.9 2735.2,2237.2 2737.1,2240.6 C2739.0,2243.9 2742.7,2248.1 2746.1,2251.8 C2749.4,2255.5 2752.8,2259.7 2757.3,2263.0 C2761.8,2266.4 2768.2,2269.4 2773.0,2272.0 C2777.9,2274.6 2783.2,2276.5 2786.5,2278.8 C2789.8,2281.0 2791.9,2283.3 2792.8,2285.5 C2793.7,2287.8 2793.2,2290.6 2792.1,2292.2 C2791.1,2293.9 2788.6,2295.2 2786.5,2295.6 C2784.5,2296.0 2782.0,2295.8 2779.8,2294.5 C2777.5,2293.2 2776.0,2290.4 2773.0,2287.8 C2770.0,2285.1 2765.9,2281.8 2761.8,2278.8 C2757.7,2275.8 2752.4,2272.0 2748.3,2269.8 C2744.2,2267.5 2738.8,2263.4 2737.1,2265.3 C2735.4,2267.2 2737.1,2275.4 2738.2,2281.0 C2739.3,2286.6 2741.4,2293.0 2743.8,2299.0 C2746.3,2305.0 2750.2,2311.3 2752.8,2317.0 C2755.4,2322.6 2757.7,2327.1 2759.6,2332.7 C2761.4,2338.3 2762.7,2344.7 2764.0,2350.7 C2765.4,2356.7 2765.9,2361.9 2767.4,2368.7 C2768.9,2375.4 2770.6,2383.6 2773.0,2391.1 C2775.5,2398.6 2779.0,2406.9 2782.0,2413.6 C2785.0,2420.3 2788.4,2426.7 2791.0,2431.6 C2793.6,2436.4 2795.1,2439.8 2797.8,2442.8 C2800.4,2445.8 2803.7,2447.9 2806.7,2449.6 C2809.7,2451.2 2813.3,2451.4 2815.7,2452.9 C2818.2,2454.4 2821.3,2456.7 2821.3,2458.5 C2821.3,2460.4 2818.9,2462.7 2815.7,2464.2 C2812.5,2465.7 2806.7,2466.6 2802.2,2467.5 C2797.8,2468.5 2792.9,2469.4 2788.8,2469.8 C2784.6,2470.1 2781.1,2470.9 2777.5,2469.8 C2774.0,2468.7 2769.3,2466.4 2767.4,2463.0 C2765.5,2459.7 2767.2,2454.0 2766.3,2449.6 C2765.4,2445.1 2763.7,2442.1 2761.8,2436.1 C2759.9,2430.1 2757.3,2421.1 2755.1,2413.6 C2752.8,2406.1 2750.6,2398.6 2748.3,2391.1 C2746.1,2383.6 2743.8,2375.4 2741.6,2368.7 C2739.3,2361.9 2737.5,2356.3 2734.8,2350.7 C2732.2,2345.1 2728.8,2339.3 2725.8,2334.9 C2722.8,2330.6 2719.5,2324.5 2716.9,2324.8 C2714.2,2325.2 2712.7,2332.1 2710.1,2337.2 C2707.5,2342.2 2704.5,2349.2 2701.1,2355.2 C2697.8,2361.2 2693.6,2367.2 2689.9,2373.1 C2686.1,2379.1 2682.4,2385.1 2678.7,2391.1 C2674.9,2397.1 2671.0,2403.1 2667.4,2409.1 C2663.9,2415.1 2660.1,2421.5 2657.3,2427.1 C2654.5,2432.7 2652.1,2439.1 2650.6,2442.8 C2649.1,2446.6 2647.8,2446.9 2648.3,2449.6 C2648.9,2452.2 2651.3,2456.3 2653.9,2458.5 C2656.6,2460.8 2661.4,2461.5 2664.0,2463.0 C2666.7,2464.5 2669.3,2465.8 2669.7,2467.5 C2670.0,2469.2 2668.9,2472.2 2666.3,2473.1 C2663.7,2474.1 2658.6,2473.7 2653.9,2473.1 C2649.3,2472.6 2643.1,2471.5 2638.2,2469.8 C2633.3,2468.1 2627.5,2465.7 2624.7,2463.0 C2621.9,2460.4 2621.7,2457.8 2621.3,2454.0 C2621.0,2450.3 2621.2,2445.4 2622.5,2440.6 C2623.8,2435.7 2626.6,2430.4 2629.2,2424.8 C2631.8,2419.2 2635.2,2413.2 2638.2,2406.9 C2641.2,2400.5 2643.8,2393.4 2647.2,2386.6 C2650.6,2379.9 2655.1,2373.1 2658.4,2366.4 C2661.8,2359.7 2664.4,2352.5 2667.4,2346.2 C2670.4,2339.8 2674.5,2332.3 2676.4,2328.2 C2678.3,2324.1 2679.0,2322.4 2678.7,2321.5 C2678.3,2320.5 2676.0,2323.0 2674.2,2322.6 C2672.3,2322.2 2669.3,2321.3 2667.4,2319.2 C2665.5,2317.2 2663.1,2313.6 2662.9,2310.2 C2662.7,2306.9 2664.8,2302.4 2666.3,2299.0 C2667.8,2295.6 2670.6,2294.1 2671.9,2290.0 C2673.2,2285.9 2673.2,2279.9 2674.2,2274.3 C2675.1,2268.7 2676.4,2262.3 2677.5,2256.3 C2678.7,2250.3 2679.8,2244.3 2680.9,2238.3 C2682.0,2232.3 2683.6,2225.6 2684.3,2220.3 C2684.9,2215.1 2685.1,2210.6 2684.9,2206.9 C2684.8,2203.1 2683.1,2201.6 2683.1,2197.9 C2683.2,2194.1 2685.1,2189.6 2685.4,2184.4 C2685.7,2179.1 2684.6,2172.4 2684.9,2166.4 C2685.3,2160.4 2686.4,2154.0 2687.6,2148.4 C2688.8,2142.8 2690.3,2137.2 2692.1,2132.7 C2694.0,2128.2 2696.6,2124.3 2698.9,2121.5 C2701.1,2118.7 2703.4,2117.2 2705.6,2115.8 C2707.9,2114.5 2709.0,2114.0 2712.4,2113.6Z" fill="#48494d"/>
<rect x="2812.5" y="2280.0" width="323.5" height="13.5" fill="#1b1b1f" />
<path d="M3133,2264.4 L3182.6,2287 L3133,2309.5 Z" fill="#1b1b1f"/>
<g font-family="'Liberation Sans', sans-serif" font-weight="bold">
<text x="89.3" y="118.3" font-size="85" fill="#e5282b" letter-spacing="8.84" stroke="#e5282b" stroke-width="1.6" stroke-linejoin="round">CENTRAL</text>
<text x="585.5" y="118.3" font-size="85" fill="#e5282b" letter-spacing="9.99" stroke="#e5282b" stroke-width="1.6" stroke-linejoin="round">ILLUSTRATION:</text>
<text x="1386.2" y="118.0" font-size="85.5" fill="#002a5c" textLength="621.4" lengthAdjust="spacingAndGlyphs">Dose-Response</text>
<text x="2035.2" y="118.0" font-size="85.5" fill="#002a5c" textLength="507.1" lengthAdjust="spacingAndGlyphs">Associations</text>
<text x="2570.8" y="118.0" font-size="85.5" fill="#002a5c" textLength="82.3" lengthAdjust="spacingAndGlyphs">of</text>
<text x="2682.2" y="118.0" font-size="85.5" fill="#002a5c" textLength="201.2" lengthAdjust="spacingAndGlyphs">Daily</text>
<text x="2914.7" y="118.0" font-size="85.5" fill="#002a5c" textLength="181.9" lengthAdjust="spacingAndGlyphs">Step</text>
<text x="3125.4" y="118.0" font-size="85.5" fill="#002a5c" textLength="235.7" lengthAdjust="spacingAndGlyphs">Count</text>
<text x="93.3" y="214.5" font-size="85.5" fill="#002a5c" textLength="186.3" lengthAdjust="spacingAndGlyphs">With</text>
<text x="308.7" y="214.5" font-size="85.5" fill="#002a5c" textLength="297.2" lengthAdjust="spacingAndGlyphs">Clinical</text>
<text x="642.1" y="214.5" font-size="85.5" fill="#002a5c" textLength="392.0" lengthAdjust="spacingAndGlyphs">Outcomes</text>
<text x="346.0" y="448.0" font-size="77" fill="#ffffff" textLength="2781.9" lengthAdjust="spacingAndGlyphs">This systemic review and meta-analysis of 12 cohorts including 111,309 individuals</text>
<text x="378.4" y="529.0" font-size="77" fill="#ffffff" textLength="2711.6" lengthAdjust="spacingAndGlyphs">from the general population identified minimal and optimum step count targets</text>
<text x="1048.6" y="611.0" font-size="77" fill="#ffffff" textLength="1313.1" lengthAdjust="spacingAndGlyphs">for reducing adverse health outcomes.</text>
<text x="396.0" y="816.4" font-size="71" fill="#ffffff" textLength="598.6" lengthAdjust="spacingAndGlyphs">All-Cause Mortality</text>
<text x="1705.9" y="786.7" font-size="71" fill="#ffffff" textLength="404.0" lengthAdjust="spacingAndGlyphs">Incident CVD</text>
<text x="1568.6" y="849.0" font-size="71" fill="#ffffff" textLength="628.8" lengthAdjust="spacingAndGlyphs">(Fatal and Nonfatal)</text>
<text x="238.2" y="964.3" font-size="49" fill="#1b1b1f" stroke="#1b1b1f" stroke-width="1.3" stroke-linejoin="round" textLength="95.2" lengthAdjust="spacingAndGlyphs">1.50</text>
<text x="236.9" y="1247.8" font-size="49" fill="#1b1b1f" stroke="#1b1b1f" stroke-width="1.3" stroke-linejoin="round" textLength="96.6" lengthAdjust="spacingAndGlyphs">1.00</text>
<text x="231.4" y="1528.9" font-size="49" fill="#1b1b1f" stroke="#1b1b1f" stroke-width="1.3" stroke-linejoin="round" textLength="101.8" lengthAdjust="spacingAndGlyphs">0.50</text>
<text x="225.8" y="1807.5" font-size="49" fill="#1b1b1f" stroke="#1b1b1f" stroke-width="1.3" stroke-linejoin="round" textLength="108.0" lengthAdjust="spacingAndGlyphs">0.00</text>
<text x="348.8" y="1889.0" font-size="49" fill="#1b1b1f" stroke="#1b1b1f" stroke-width="1.3" stroke-linejoin="round" textLength="138.3" lengthAdjust="spacingAndGlyphs">2,000</text>
<text x="571.2" y="1889.0" font-size="49" fill="#1b1b1f" stroke="#1b1b1f" stroke-width="1.3" stroke-linejoin="round" textLength="139.5" lengthAdjust="spacingAndGlyphs">6,000</text>
<text x="771.7" y="1889.0" font-size="49" fill="#1b1b1f" stroke="#1b1b1f" stroke-width="1.3" stroke-linejoin="round" textLength="162.1" lengthAdjust="spacingAndGlyphs">10,000</text>
<text x="995.4" y="1889.0" font-size="49" fill="#1b1b1f" stroke="#1b1b1f" stroke-width="1.3" stroke-linejoin="round" textLength="162.8" lengthAdjust="spacingAndGlyphs">14,000</text>
<text x="625.8" y="1961.5" font-size="58" fill="#1b1b1f" stroke="#1b1b1f" stroke-width="1.0" stroke-linejoin="round" textLength="252.2" lengthAdjust="spacingAndGlyphs">Steps/Day</text>
<text x="1427.7" y="964.3" font-size="49" fill="#1b1b1f" stroke="#1b1b1f" stroke-width="1.3" stroke-linejoin="round" textLength="95.2" lengthAdjust="spacingAndGlyphs">1.50</text>
<text x="1426.4" y="1247.8" font-size="49" fill="#1b1b1f" stroke="#1b1b1f" stroke-width="1.3" stroke-linejoin="round" textLength="96.6" lengthAdjust="spacingAndGlyphs">1.00</text>
<text x="1420.9" y="1528.9" font-size="49" fill="#1b1b1f" stroke="#1b1b1f" stroke-width="1.3" stroke-linejoin="round" textLength="101.8" lengthAdjust="spacingAndGlyphs">0.50</text>
<text x="1415.3" y="1807.5" font-size="49" fill="#1b1b1f" stroke="#1b1b1f" stroke-width="1.3" stroke-linejoin="round" textLength="108.0" lengthAdjust="spacingAndGlyphs">0.00</text>
<text x="1538.3" y="1889.0" font-size="49" fill="#1b1b1f" stroke="#1b1b1f" stroke-width="1.3" stroke-linejoin="round" textLength="138.3" lengthAdjust="spacingAndGlyphs">2,000</text>
<text x="1760.7" y="1889.0" font-size="49" fill="#1b1b1f" stroke="#1b1b1f" stroke-width="1.3" stroke-linejoin="round" textLength="139.5" lengthAdjust="spacingAndGlyphs">6,000</text>
<text x="1961.2" y="1889.0" font-size="49" fill="#1b1b1f" stroke="#1b1b1f" stroke-width="1.3" stroke-linejoin="round" textLength="162.1" lengthAdjust="spacingAndGlyphs">10,000</text>
<text x="2184.9" y="1889.0" font-size="49" fill="#1b1b1f" stroke="#1b1b1f" stroke-width="1.3" stroke-linejoin="round" textLength="162.8" lengthAdjust="spacingAndGlyphs">14,000</text>
<text x="1815.3" y="1961.5" font-size="58" fill="#1b1b1f" stroke="#1b1b1f" stroke-width="1.0" stroke-linejoin="round" textLength="252.2" lengthAdjust="spacingAndGlyphs">Steps/Day</text>
<text transform="translate(204.5,1514.9) rotate(-90)" x="-0.8" y="0" font-size="60" fill="#1b1b1f" stroke="#1b1b1f" stroke-width="1.0" stroke-linejoin="round" textLength="307.2" lengthAdjust="spacingAndGlyphs">Adjusted HR</text>
<text transform="translate(1382.4,1509.4) rotate(-90)" x="-0.8" y="0" font-size="60" fill="#1b1b1f" stroke="#1b1b1f" stroke-width="1.0" stroke-linejoin="round" textLength="301.6" lengthAdjust="spacingAndGlyphs">Adjusted HR</text>
<text x="635.4" y="2134.5" font-size="49.5" fill="#1b1b1f" textLength="215.2" lengthAdjust="spacingAndGlyphs">Steps/day</text>
<text x="253.6" y="2252.0" font-size="49.5" fill="#1b1b1f" textLength="319.1" lengthAdjust="spacingAndGlyphs">Minimum dose</text>
<text x="256.2" y="2357.6" font-size="49.5" fill="#1b1b1f" textLength="317.6" lengthAdjust="spacingAndGlyphs">Optimum dose</text>
<text x="257.2" y="2457.0" font-size="49.5" fill="#1b1b1f" textLength="312.9" lengthAdjust="spacingAndGlyphs">Risk reduction</text>
<text x="258.1" y="2510.3" font-size="49.5" fill="#1b1b1f" textLength="340.9" lengthAdjust="spacingAndGlyphs">at 16,000 steps</text>
<text x="1825.4" y="2134.5" font-size="49.5" fill="#1b1b1f" textLength="215.2" lengthAdjust="spacingAndGlyphs">Steps/day</text>
<text x="1443.6" y="2252.0" font-size="49.5" fill="#1b1b1f" textLength="319.1" lengthAdjust="spacingAndGlyphs">Minimum dose</text>
<text x="1446.2" y="2357.6" font-size="49.5" fill="#1b1b1f" textLength="317.6" lengthAdjust="spacingAndGlyphs">Optimum dose</text>
<text x="1447.2" y="2457.0" font-size="49.5" fill="#1b1b1f" textLength="312.9" lengthAdjust="spacingAndGlyphs">Risk reduction</text>
<text x="1448.1" y="2510.3" font-size="49.5" fill="#1b1b1f" textLength="340.9" lengthAdjust="spacingAndGlyphs">at 16,000 steps</text>
<text x="914.9" y="2110.8" font-size="49.5" fill="#1b1b1f" textLength="269.3" lengthAdjust="spacingAndGlyphs">Adjusted HR</text>
<text x="956.1" y="2164.3" font-size="49.5" fill="#1b1b1f" textLength="190.4" lengthAdjust="spacingAndGlyphs">(95% CI)</text>
<text x="678.3" y="2245.8" font-size="38.5" fill="#1b1b1f" stroke="#1b1b1f" stroke-width="0.7" stroke-linejoin="round" textLength="92.1" lengthAdjust="spacingAndGlyphs">2,517</text>
<text x="864.5" y="2245.8" font-size="38.5" fill="#1b1b1f" stroke="#1b1b1f" stroke-width="0.7" stroke-linejoin="round" textLength="317.5" lengthAdjust="spacingAndGlyphs">0.92 (0.84-0.99)</text>
<text x="676.7" y="2359.5" font-size="38.5" fill="#1b1b1f" stroke="#1b1b1f" stroke-width="0.7" stroke-linejoin="round" textLength="105.1" lengthAdjust="spacingAndGlyphs">8,763</text>
<text x="864.5" y="2359.5" font-size="38.5" fill="#1b1b1f" stroke="#1b1b1f" stroke-width="0.7" stroke-linejoin="round" textLength="318.1" lengthAdjust="spacingAndGlyphs">0.40 (0.38-0.43)</text>
<text x="659.3" y="2478.9" font-size="38.5" fill="#1b1b1f" stroke="#1b1b1f" stroke-width="0.7" stroke-linejoin="round" textLength="138.6" lengthAdjust="spacingAndGlyphs">16,000</text>
<text x="870.3" y="2478.9" font-size="38.5" fill="#1b1b1f" stroke="#1b1b1f" stroke-width="0.7" stroke-linejoin="round" textLength="318.1" lengthAdjust="spacingAndGlyphs">0.35 (0.30-0.40)</text>
<text x="2089.9" y="2110.8" font-size="49.5" fill="#1b1b1f" textLength="268.2" lengthAdjust="spacingAndGlyphs">Adjusted HR</text>
<text x="2129.5" y="2164.3" font-size="49.5" fill="#1b1b1f" textLength="193.2" lengthAdjust="spacingAndGlyphs">(95% CI)</text>
<text x="1866.3" y="2245.8" font-size="38.5" fill="#1b1b1f" stroke="#1b1b1f" stroke-width="0.7" stroke-linejoin="round" textLength="101.7" lengthAdjust="spacingAndGlyphs">2,735</text>
<text x="2065.0" y="2245.8" font-size="38.5" fill="#1b1b1f" stroke="#1b1b1f" stroke-width="0.7" stroke-linejoin="round" textLength="318.1" lengthAdjust="spacingAndGlyphs">0.89 (0.79-0.99)</text>
<text x="1871.2" y="2359.5" font-size="38.5" fill="#1b1b1f" stroke="#1b1b1f" stroke-width="0.7" stroke-linejoin="round" textLength="94.2" lengthAdjust="spacingAndGlyphs">7,126</text>
<text x="2063.5" y="2359.5" font-size="38.5" fill="#1b1b1f" stroke="#1b1b1f" stroke-width="0.7" stroke-linejoin="round" textLength="312.3" lengthAdjust="spacingAndGlyphs">0.49 (0.45-0.55)</text>
<text x="1847.2" y="2478.9" font-size="38.5" fill="#1b1b1f" stroke="#1b1b1f" stroke-width="0.7" stroke-linejoin="round" textLength="139.2" lengthAdjust="spacingAndGlyphs">16,000</text>
<text x="2065.0" y="2478.9" font-size="38.5" fill="#1b1b1f" stroke="#1b1b1f" stroke-width="0.7" stroke-linejoin="round" textLength="308.3" lengthAdjust="spacingAndGlyphs">0.42 (0.33-0.53)</text>
<text x="2536.2" y="789.3" font-size="59.6" fill="#1b1b1f" textLength="668.2" lengthAdjust="spacingAndGlyphs">Step count targets were</text>
<text x="2644.3" y="856.6" font-size="59.6" fill="#1b1b1f" textLength="447.3" lengthAdjust="spacingAndGlyphs">independent of:</text>
<text x="2822.6" y="964.3" font-size="59.6" fill="#1b1b1f" textLength="95.3" lengthAdjust="spacingAndGlyphs">Sex</text>
<text x="2572.6" y="1359.5" font-size="59.6" fill="#1b1b1f" textLength="578.2" lengthAdjust="spacingAndGlyphs">Device wear location</text>
<text x="2682.4" y="1426.9" font-size="59.6" fill="#1b1b1f" textLength="363.2" lengthAdjust="spacingAndGlyphs">(wrist vs hip)</text>
<text x="2510.0" y="1885.8" font-size="59.6" fill="#1b1b1f" textLength="725.8" lengthAdjust="spacingAndGlyphs">Additional health benefits</text>
<text x="2525.5" y="1954.3" font-size="59.6" fill="#1b1b1f" textLength="709.4" lengthAdjust="spacingAndGlyphs">with higher step cadence,</text>
<text x="2589.3" y="2022.9" font-size="59.6" fill="#1b1b1f" textLength="555.6" lengthAdjust="spacingAndGlyphs">irrespective of total</text>
<text x="2726.4" y="2091.4" font-size="59.6" fill="#1b1b1f" textLength="293.9" lengthAdjust="spacingAndGlyphs">step count</text>
<text x="2802.1" y="2370.3" font-size="59.6" fill="#1b1b1f" textLength="377.9" lengthAdjust="spacingAndGlyphs">Steps/minute</text>
<text x="83.4" y="2697.4" font-size="78" fill="#1f1f1f" textLength="2051.8" lengthAdjust="spacingAndGlyphs">Stens NA, et al. J Am Coll Cardiol. 2023;82(15):1483–1494.</text>
</g>
</svg>
</body></html>
